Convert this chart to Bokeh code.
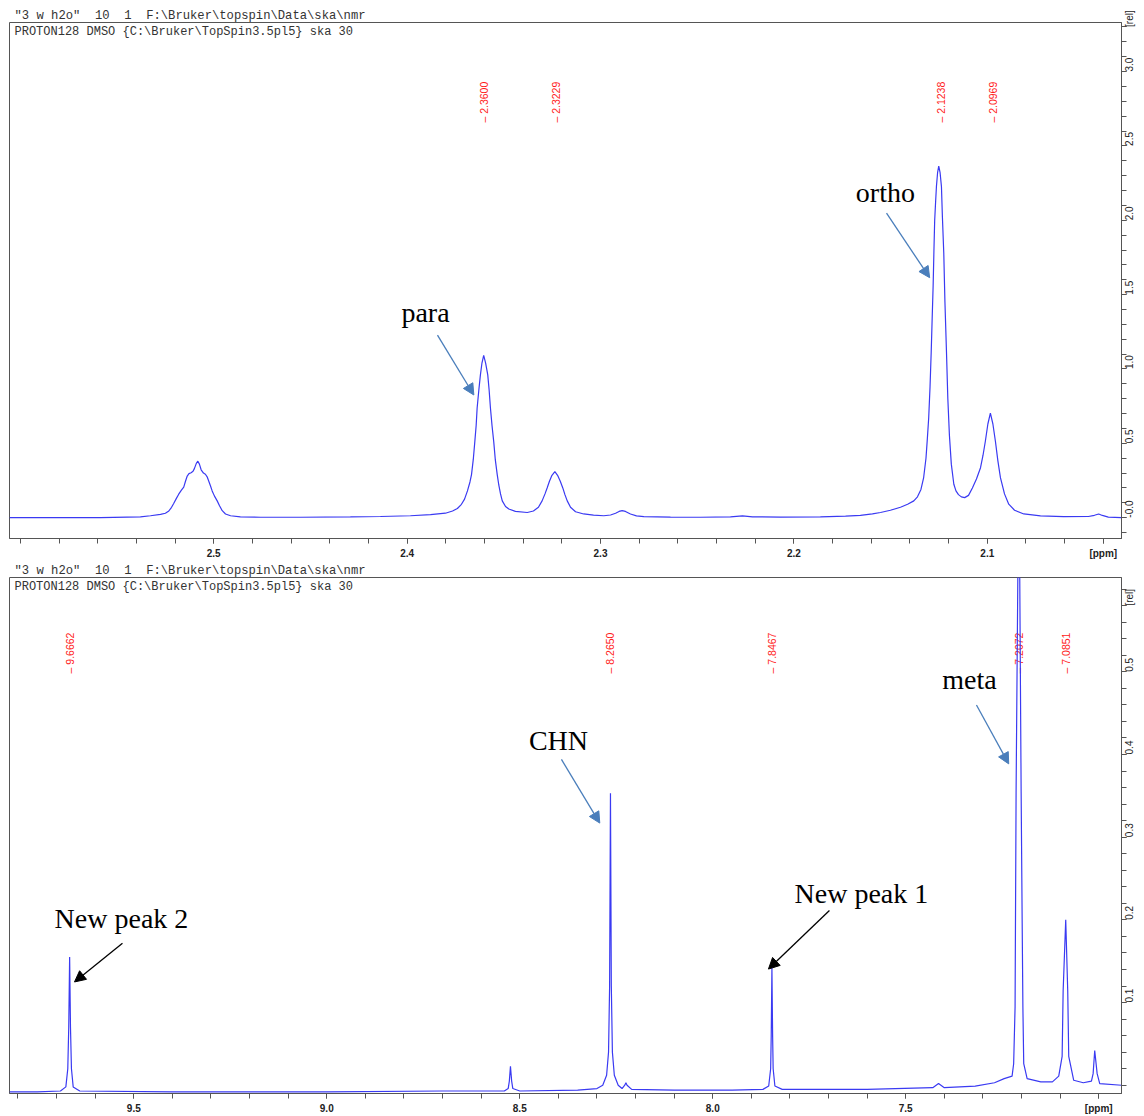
import math
from bokeh.plotting import figure
from bokeh.models import Range1d, FixedTicker, Arrow, NormalHead, PrintfTickFormatter
from bokeh.layouts import column
from bokeh.embed import file_html
from bokeh.resources import INLINE
from bokeh.core.properties import value

# ---------------- data ----------------
NB = "\u00a0"
hdr1 = '"3 w h2o"' + NB * 2 + "10" + NB * 2 + "1" + NB * 2 + "F:\\Bruker\\topspin\\Data\\ska\\nmr"
hdr2 = "PROTON128 DMSO {C:\\Bruker\\TopSpin3.5pl5} ska 30"

# upper panel trace (ppm, intensity [rel])
top_ppm = [2.6056, 2.5586, 2.5379, 2.5327, 2.5275, 2.5250, 2.5232, 2.5218, 2.5207, 2.5193,
           2.5181, 2.5167, 2.5155, 2.5146, 2.5137, 2.5128, 2.5117, 2.5107, 2.5100, 2.5090,
           2.5082, 2.5074, 2.5065, 2.5053, 2.5043, 2.5034, 2.5026, 2.5017, 2.5008, 2.4996,
           2.4982, 2.4970, 2.4956, 2.4939, 2.4913, 2.4862, 2.4758, 2.4551, 2.4293, 2.4138,
           2.3983, 2.3879, 2.3802,
           2.3765, 2.3740, 2.3719, 2.3703, 2.3688, 2.3675, 2.3667, 2.3658, 2.3650, 2.3643,
           2.3638, 2.3629, 2.3621, 2.3613, 2.3604, 2.3594, 2.3583, 2.3576, 2.3569, 2.3561,
           2.3552, 2.3544, 2.3534, 2.3526, 2.3517, 2.3508, 2.3491, 2.3474, 2.3440, 2.3379,
           2.3347, 2.3321, 2.3302, 2.3287, 2.3276, 2.3264, 2.3251, 2.3236, 2.3222, 2.3208,
           2.3195, 2.3184, 2.3172, 2.3155, 2.3129, 2.3087, 2.3036, 2.2983, 2.2948, 2.2922,
           2.2904, 2.2888, 2.2871, 2.2845, 2.2814, 2.2776, 2.2638, 2.2483, 2.2328, 2.2266,
           2.2214, 2.2069, 2.1863, 2.1733, 2.1656, 2.1594, 2.1552, 2.1501, 2.1449, 2.1412,
           2.1380, 2.1361, 2.1343, 2.1329, 2.1317, 2.1310, 2.1303, 2.1296, 2.1290, 2.1285,
           2.1280, 2.1276, 2.1272, 2.1267, 2.1263, 2.1257, 2.1251, 2.1244, 2.1237, 2.1232,
           2.1225, 2.1219, 2.1211, 2.1204, 2.1196, 2.1186, 2.1173, 2.1162, 2.1149, 2.1134,
           2.1117, 2.1097, 2.1077, 2.1056, 2.1035, 2.1022, 2.1010, 2.0997, 2.0984, 2.0971,
           2.0958, 2.0945, 2.0932, 2.0911, 2.0889, 2.0859, 2.0811, 2.0725, 2.0605, 2.0477,
           2.0446, 2.0424, 2.0405, 2.0374, 2.0306]
top_int = [0.0, 0.0, 0.006, 0.013, 0.022, 0.03, 0.045, 0.07, 0.095, 0.13,
           0.158, 0.185, 0.205, 0.245, 0.28, 0.296, 0.302, 0.312, 0.33, 0.365,
           0.38, 0.36, 0.322, 0.3, 0.292, 0.275, 0.247, 0.215, 0.18, 0.145,
           0.113, 0.08, 0.047, 0.025, 0.013, 0.005, 0.003, 0.003, 0.005, 0.008,
           0.013, 0.02, 0.03,
           0.045, 0.062, 0.09, 0.125, 0.18, 0.24, 0.29, 0.39, 0.51, 0.62,
           0.736, 0.86, 0.96, 1.04, 1.092, 1.04, 0.96, 0.86, 0.736, 0.62,
           0.51, 0.39, 0.29, 0.22, 0.16, 0.113, 0.075, 0.058, 0.042, 0.035,
           0.045, 0.07, 0.113, 0.16, 0.2, 0.245, 0.285, 0.309, 0.285, 0.245,
           0.2, 0.155, 0.113, 0.07, 0.04, 0.025, 0.017, 0.013, 0.018, 0.03,
           0.042, 0.047, 0.042, 0.025, 0.012, 0.007, 0.004, 0.003, 0.005, 0.012,
           0.006, 0.004, 0.006, 0.01, 0.015, 0.025, 0.035, 0.05, 0.07, 0.09,
           0.113, 0.14, 0.19, 0.27, 0.4, 0.53, 0.67, 0.88, 1.114, 1.34,
           1.56, 1.79, 2.0, 2.13, 2.226, 2.32, 2.364, 2.32, 2.226, 2.02,
           1.78, 1.45, 1.114, 0.8, 0.558, 0.36, 0.225, 0.18, 0.155, 0.14,
           0.135, 0.15, 0.2, 0.26, 0.336, 0.42, 0.514, 0.63, 0.703, 0.63,
           0.514, 0.38, 0.269, 0.16, 0.091, 0.05, 0.025, 0.012, 0.007, 0.008,
           0.016, 0.025, 0.015, 0.004, 0.0]

# lower panel trace (ppm, intensity [rel])
bot_ppm = [9.822, 9.75, 9.69, 9.676, 9.671, 9.6685, 9.6662, 9.6640, 9.6615, 9.657,
           9.64, 9.40, 9.00, 8.70, 8.54, 8.530, 8.527, 8.5241, 8.521, 8.518,
           8.50, 8.35, 8.30, 8.285, 8.275, 8.270, 8.2672, 8.2650, 8.2628, 8.260,
           8.255, 8.245, 8.235, 8.228, 8.225, 8.222, 8.21, 8.10, 7.95, 7.87,
           7.855, 7.850, 7.8485, 7.8467, 7.8449, 7.8435, 7.839, 7.82, 7.60, 7.43,
           7.415, 7.40, 7.32, 7.27, 7.245, 7.2245, 7.2204, 7.2167, 7.2141, 7.2095,
           7.2072, 7.2047, 7.2010, 7.1984, 7.1965, 7.1943, 7.1855, 7.15, 7.12, 7.1036,
           7.0948, 7.0922, 7.0855, 7.0803, 7.0777, 7.0648, 7.04, 7.0189, 7.0145, 7.0104,
           7.0041, 6.9974, 6.941]
bot_int = [-0.008, -0.008, -0.007, -0.002, 0.02, 0.07, 0.155, 0.07, 0.02, -0.002,
           -0.007, -0.008, -0.008, -0.007, -0.007, -0.004, 0.005, 0.023, 0.005, -0.004,
           -0.007, -0.006, -0.004, 0.0, 0.012, 0.04, 0.12, 0.353, 0.12, 0.04,
           0.012, 0.0, -0.004, 0.0, 0.003, 0.0, -0.005, -0.006, -0.006, -0.005,
           -0.001, 0.02, 0.06, 0.142, 0.06, 0.02, -0.001, -0.005, -0.005, -0.003,
           0.002, -0.003, -0.001, 0.003, 0.008, 0.011, 0.026, 0.095, 0.354, 0.62,
           0.8, 0.62, 0.354, 0.2, 0.095, 0.026, 0.008, 0.004, 0.004, 0.011,
           0.035, 0.114, 0.2, 0.114, 0.035, 0.006, 0.003, 0.005, 0.014, 0.042,
           0.014, 0.002, 0.0]

# peak picking labels
top_peaks = [2.3600, 2.3229, 2.1238, 2.0969]
bot_peaks = [9.6662, 8.2650, 7.8467, 7.2072, 7.0851]

# axis ticks
top_xticks = [2.5, 2.4, 2.3, 2.2, 2.1]
top_yticks = [0, 0.5, 1.0, 1.5, 2.0, 2.5, 3.0]
bot_xticks = [9.5, 9.0, 8.5, 8.0, 7.5]
bot_yticks = [0.1, 0.2, 0.3, 0.4, 0.5]

# annotations: text, text position, arrow start, arrow tip, colour
top_notes = ["para", "ortho"]
top_note_x = [2.3905, 2.1527]
top_note_y = [1.381, 2.189]
top_arrow_x0 = [2.3843, 2.1521]
top_arrow_y0 = [1.2275, 2.048]
top_arrow_x1 = [2.3655, 2.1298]
top_arrow_y1 = [0.825, 1.614]
top_arrow_col = ["#4a7ebb", "#4a7ebb"]

bot_notes = ["New peak 2", "CHN", "New peak 1", "meta"]
bot_note_x = [9.5319, 8.3997, 7.6148, 7.335]
bot_note_y = [0.2018, 0.4167, 0.2318, 0.4901]
bot_arrow_x0 = [9.5293, 8.392, 7.6977, 7.3168]
bot_arrow_y0 = [0.1717, 0.394, 0.2113, 0.4598]
bot_arrow_x1 = [9.6536, 8.2927, 7.8557, 7.2332]
bot_arrow_y1 = [0.1249, 0.317, 0.1405, 0.3886]
bot_arrow_col = ["black", "#4a7ebb", "black", "#4a7ebb"]

# ---------------- styling ----------------
W = 1144
FRAME_W = 1112
FRAME_COL = "#555555"
TRACE_COL = "#3a3af2"


def make_panel(h, top_border, xr, yr, trace_x, trace_y, peaks, label_y,
               xmaj, xunit, xminor, ymaj, yrel, yminor, yzero_label,
               notes, nx, ny, ax0, ay0, ax1, ay1, acol, hdr_dy, px_per_unit):
    p = figure(width=W, height=h, x_range=Range1d(*xr), y_range=Range1d(*yr),
               y_axis_location="right", output_backend="svg", toolbar_location=None,
               min_border_left=9, min_border_right=23, min_border_top=top_border,
               min_border_bottom=0, title=hdr1)
    p.title.text_font = "Liberation Mono"
    p.title.text_font_size = "12.2px"
    p.title.text_font_style = "normal"
    p.title.text_color = "#333333"
    p.title.align = "left"
    p.title.offset = 5
    p.title.standoff = 0
    p.xgrid.visible = False
    p.ygrid.visible = False
    p.outline_line_color = FRAME_COL
    p.outline_line_width = 1
    p.background_fill_color = "white"
    p.border_fill_color = "white"

    # x axis
    xa = p.xaxis[0]
    xa.ticker = FixedTicker(ticks=xmaj + [xunit], minor_ticks=xminor)
    xa.formatter = PrintfTickFormatter(format="%.1f")
    xa.major_label_overrides = {xunit: "[ppm]"}
    xa.major_label_text_font = "Liberation Sans"
    xa.major_label_text_font_style = "bold"
    xa.major_label_text_font_size = "10px"
    xa.major_label_text_color = "#222222"
    xa.major_label_standoff = 4

    # y axis (right)
    ya = p.yaxis[0]
    ya.ticker = FixedTicker(ticks=ymaj + [yrel], minor_ticks=yminor)
    ya.formatter = PrintfTickFormatter(format="%.1f")
    ov = {yrel: "[rel]"}
    if yzero_label:
        ov[0] = "-0.0"
    ya.major_label_overrides = ov
    ya.major_label_orientation = math.pi / 2
    ya.major_label_text_font = "Liberation Sans"
    ya.major_label_text_font_size = "10px"
    ya.major_label_text_color = "#222222"
    ya.major_label_standoff = 3

    for ax in (xa, ya):
        ax.axis_line_color = FRAME_COL
        ax.major_tick_line_color = FRAME_COL
        ax.minor_tick_line_color = FRAME_COL
        ax.major_tick_out = 5
        ax.minor_tick_out = 5
        ax.major_tick_in = 0
        ax.minor_tick_in = 0

    # second header line inside the frame
    ppm_per_px = (xr[0] - xr[1]) / FRAME_W
    p.text(x=[xr[0] - 5 * ppm_per_px], y=[yr[1] - hdr_dy / px_per_unit], text=[hdr2],
           text_font=value("Liberation Mono"), text_font_size="12px",
           text_color="#333333", text_baseline="middle", text_align="left")

    # peak picking labels (red, vertical)
    p.text(x=peaks, y=[label_y] * len(peaks),
           text=["\u2013 " + f"{v:.4f}" for v in peaks],
           angle=math.pi / 2, text_align="left", text_baseline="middle",
           text_color="#ff1a1a", text_font=value("Liberation Sans"), text_font_size="10.5px")

    # spectrum
    p.line(trace_x, trace_y, line_color=TRACE_COL, line_width=1.2)

    # annotations
    p.text(x=nx, y=ny, text=notes, text_font=value("Liberation Serif"), text_font_size="28px",
           text_color="black", text_align="center", text_baseline="alphabetic")
    for i in range(len(notes)):
        c = acol[i]
        p.add_layout(Arrow(end=NormalHead(size=11, fill_color=c, line_color=c),
                           x_start=ax0[i], y_start=ay0[i], x_end=ax1[i], y_end=ay1[i],
                           line_color=c, line_width=1.3))
    return p


top_minor_x = [2.6, 2.58, 2.56, 2.54, 2.52, 2.5, 2.48, 2.46, 2.44, 2.42, 2.4, 2.38, 2.36, 2.34,
               2.32, 2.3, 2.28, 2.26, 2.24, 2.22, 2.2, 2.18, 2.16, 2.14, 2.12, 2.1, 2.08, 2.06, 2.04]
top_minor_y = [round(-0.1 + 0.1 * i, 1) for i in range(35)]
bot_minor_x = [round(9.8 - 0.1 * i, 1) for i in range(29)]
bot_minor_y = [round(0.02 * i, 2) for i in range(31)]

p1 = make_panel(561, 22, (2.6056, 2.0306), (-0.14, 3.33), top_ppm, top_int, top_peaks, 2.657,
                top_xticks, 2.04, top_minor_x, top_yticks, 3.3, top_minor_y, True,
                top_notes, top_note_x, top_note_y, top_arrow_x0, top_arrow_y0,
                top_arrow_x1, top_arrow_y1, top_arrow_col, 9, 148.4)
p2 = make_panel(555, 15, (9.822, 6.941), (-0.01, 0.614), bot_ppm, bot_int, bot_peaks, 0.498,
                bot_xticks, 7.0, bot_minor_x, bot_yticks, 0.58, bot_minor_y, False,
                bot_notes, bot_note_x, bot_note_y, bot_arrow_x0, bot_arrow_y0,
                bot_arrow_x1, bot_arrow_y1, bot_arrow_col, 9, 826.0)

layout = column(p1, p2, spacing=0)
open("out.html", "w").write(file_html(layout, INLINE))
